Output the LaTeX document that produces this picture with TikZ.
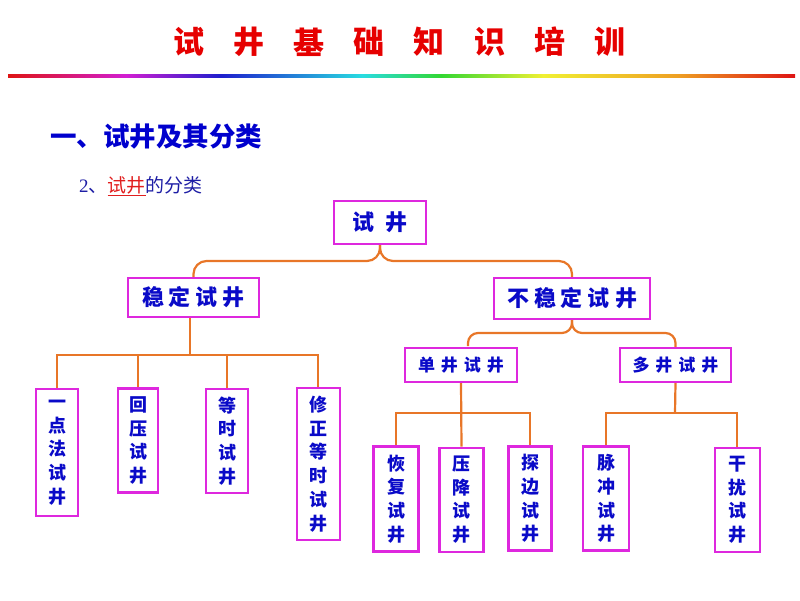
\documentclass[tikz,border=0pt]{standalone}
\usepackage{fontspec}
\newfontfamily\cjk{Noto Sans CJK SC}
\newfontfamily\lserif{Liberation Serif}
\usetikzlibrary{calc}
\definecolor{boxmag}{RGB}{222,40,222}
\definecolor{connor}{RGB}{232,118,40}
\definecolor{txtblue}{RGB}{10,10,200}
\definecolor{headblue}{RGB}{0,0,205}
\definecolor{subblue}{RGB}{30,30,165}
\definecolor{titlered}{RGB}{230,0,0}
\definecolor{subred}{RGB}{225,30,30}
\definecolor{rb0}{RGB}{222,20,20}
\definecolor{rb1}{RGB}{210,30,210}
\definecolor{rb2}{RGB}{30,30,205}
\definecolor{rb3}{RGB}{40,220,225}
\definecolor{rb4}{RGB}{50,215,50}
\definecolor{rb5}{RGB}{240,240,50}
\definecolor{rb6}{RGB}{238,160,35}
\pgfdeclarehorizontalshading{rainbowline}{100bp}{color(0bp)=(rb0); color(25bp)=(rb0); color(32.5bp)=(rb1); color(38.5bp)=(rb2); color(47.5bp)=(rb3); color(52.5bp)=(rb4); color(59bp)=(rb5); color(67.5bp)=(rb6); color(75bp)=(rb0); color(100bp)=(rb0)}
\newcommand{\gp}[1]{\hspace{#1pt}}
\begin{document}
\begin{tikzpicture}[x=1pt,y=-1pt,
  box/.style={draw=boxmag, line width=2.2pt, fill=white, text=txtblue, inner sep=0pt, align=center},
  leaf/.style={box, font=\cjk\bfseries\fontsize{18}{23.8}\selectfont},
  mid/.style={box, font=\cjk\bfseries\fontsize{17}{20}\selectfont},
  big/.style={box, font=\cjk\bfseries\fontsize{22}{26}\selectfont},
  conn/.style={draw=connor, line width=2.2pt},
  titlech/.style={font=\cjk\bfseries\fontsize{31}{34}\selectfont, text=titlered, inner sep=0pt}]
\useasboundingbox (0,0) rectangle (800,600);
% title
\foreach \c [count=\i from 0] in {试,井,基,础,知,识,培,训}
  \node[titlech] (t\i) at ({189+60.1*\i},42) {\c};
\shade[shading=rainbowline] (8,74.5) rectangle (795,77.5);
% headings
\node[anchor=west, inner sep=0pt, text=headblue, font=\cjk\bfseries\fontsize{26.5}{30}\selectfont] (head) at (50,137) {一、试井及其分类};
\node[anchor=west, inner sep=0pt, text=subblue, font=\cjk\fontsize{19}{22}\selectfont] (sub) at (79,186) {{\lserif 2}、\textcolor{subred}{\underline{试井}}的分类};
% nodes
\node[big, minimum width=92pt, minimum height=43pt] (root) at (380,222.5) {试\gp{12}井};
\node[big, minimum width=131pt, minimum height=39pt] (stable) at (193.5,297.5) {稳\gp{5}定\gp{5}试\gp{5}井};
\node[big, minimum width=156pt, minimum height=41pt] (unstable) at (572,298.5) {不\gp{5}稳\gp{5}定\gp{5}试\gp{5}井};
\node[mid, minimum width=112pt, minimum height=34pt] (s1) at (461,365) {单\gp{6}井\gp{6}试\gp{6}井};
\node[mid, minimum width=111pt, minimum height=34pt] (s2) at (675.5,365) {多\gp{6}井\gp{6}试\gp{6}井};
% left leaves
\node[leaf, minimum width=42pt, minimum height=127pt] (l1) at (57,452.5) {一\\点\\法\\试\\井};
\node[leaf, minimum width=40pt, minimum height=104pt] (l2) at (138.3,440.5) {回\\压\\试\\井};
\node[leaf, minimum width=42pt, minimum height=104pt] (l3) at (227,441) {等\\时\\试\\井};
\node[leaf, minimum width=43pt, minimum height=152pt] (l4) at (318.3,464) {修\\正\\等\\时\\试\\井};
% right leaves
\node[leaf, minimum width=45pt, minimum height=105pt] (r1) at (396,499) {恢\\复\\试\\井};
\node[leaf, minimum width=44pt, minimum height=104pt] (r2) at (461.5,499.7) {压\\降\\试\\井};
\node[leaf, minimum width=43pt, minimum height=104pt] (r3) at (530,498.4) {探\\边\\试\\井};
\node[leaf, minimum width=46pt, minimum height=104pt] (r4) at (606,498.4) {脉\\冲\\试\\井};
\node[leaf, minimum width=45pt, minimum height=104pt] (r5) at (737.3,499.7) {干\\扰\\试\\井};
% connectors
\coordinate (b1) at (380,261);
\draw[conn, rounded corners=13pt] (stable.north) |- (b1) -- (root.south);
\draw[conn, rounded corners=13pt] (root.south) -- (b1) -| (unstable.north);
\coordinate (b2) at (572,333);
\coordinate (a1) at (468,346);
\draw[conn, rounded corners=10pt] (a1) |- (b2) -- (unstable.south);
\draw[conn, rounded corners=10pt] (unstable.south) -- (b2) -| (s2.north);
\coordinate (sh) at (190,355);
\draw[conn] (sh |- stable.south) -- (sh);
\draw[conn] (l1.north) |- (sh) -| (l4.north);
\draw[conn] (l2.north) -- (l2.north |- sh);
\draw[conn] (l3.north) -- (l3.north |- sh);
\coordinate (h2) at (461,413);
\draw[conn] (s1.south) -- (r2.north);
\draw[conn] (r1.north) |- (h2) -| (r3.north);
\coordinate (h3) at (675,413);
\draw[conn] (s2.south) -- (h3);
\draw[conn] (r4.north) |- (h3) -| (r5.north);
\end{tikzpicture}
\end{document}
